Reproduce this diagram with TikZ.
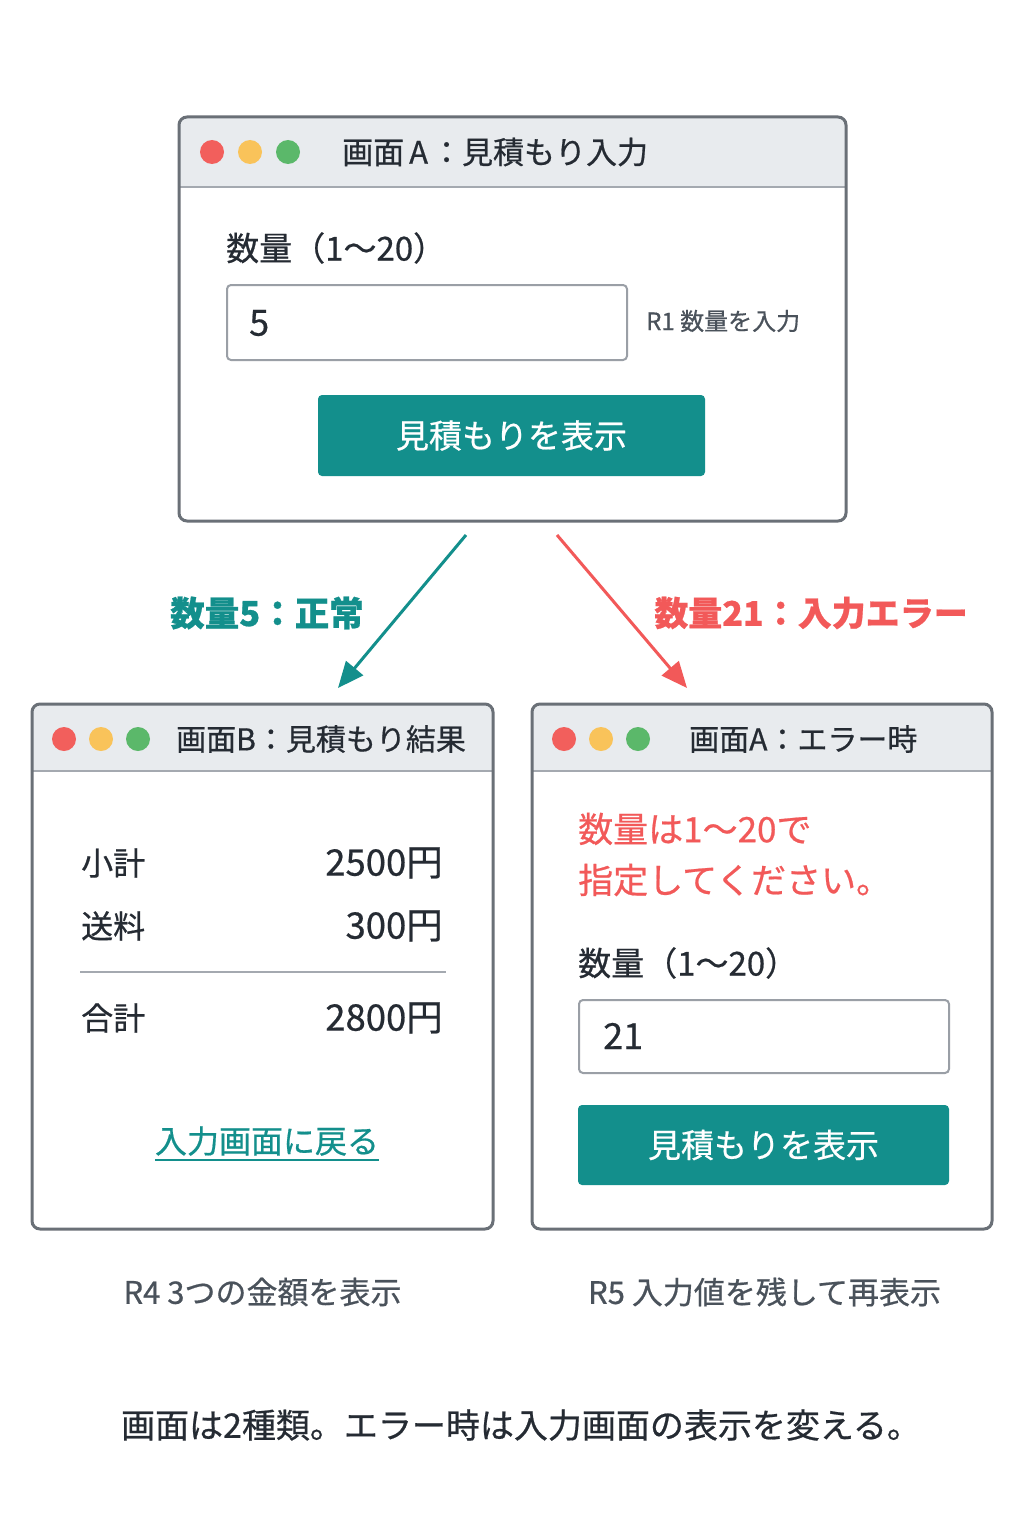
\documentclass[tikz,border=0pt]{standalone}
\usepackage{fontspec}
\setmainfont{Noto Sans CJK JP}[RawFeature={embolden=0.6}]
\usetikzlibrary{arrows.meta}

\definecolor{ink}{HTML}{252B33}
\definecolor{winedge}{HTML}{6A7077}
\definecolor{barfill}{HTML}{E8EBEE}
\definecolor{sepgray}{HTML}{A4A9B0}
\definecolor{fieldgray}{HTML}{9A9FA6}
\definecolor{tealbtn}{HTML}{138F8C}
\definecolor{errred}{HTML}{F25959}
\definecolor{capgray}{HTML}{4A525B}
\definecolor{dotred}{HTML}{F25F5C}
\definecolor{dotyel}{HTML}{F9C35A}
\definecolor{dotgrn}{HTML}{5BB86A}

\tikzset{
  win/.style={fill=white, inner sep=0pt, outer sep=0pt, rounded corners=8pt},
  winedge/.style={draw=winedge, line width=3pt, rounded corners=8pt},
  dot/.style={circle, inner sep=0pt, minimum size=24pt},
  wintitle/.style={anchor=west, inner sep=0pt, text=ink, font=\fontsize{30}{36}\selectfont},
  body/.style={inner sep=0pt, text=ink, font=\fontsize{32}{38}\selectfont},
  money/.style={body, anchor=east, font=\fontsize{36.5}{42}\selectfont},
  field/.style={draw=fieldgray, line width=2pt, rounded corners=4pt, fill=white, inner sep=0pt},
  btn/.style={fill=tealbtn, rounded corners=4pt, text=white, inner sep=0pt,
    font=\fontsize{33}{38}\selectfont},
  caption/.style={inner sep=0pt, text=capgray, font=\fontsize{31}{36}\selectfont},
  flow/.style={line width=3pt, -{Triangle[length=26pt,width=22pt]}}
}

\begin{document}
\begin{tikzpicture}[x=1pt, y=-1pt]

    % Page
    \useasboundingbox[fill=white] (0,0) rectangle (1024,1536);

    % Define the three windows
    \node[win, minimum width=667pt, minimum height=404pt] (winA) at (512.5,319) {};
    \node[win, minimum width=461pt, minimum height=525pt] (winB) at (262.5,966.5) {};
    \node[win, minimum width=460pt, minimum height=525pt] (winC) at (762,966.5) {};

    % Title bars, clipped to the window outline
    \begin{scope}
      \clip[rounded corners=8pt] (winA.north west) rectangle (winA.south east);
      \fill[barfill] (winA.north west) rectangle ([yshift=-70pt]winA.north east);
    \end{scope}
    \begin{scope}
      \clip[rounded corners=8pt] (winB.north west) rectangle (winB.south east);
      \fill[barfill] (winB.north west) rectangle ([yshift=-67pt]winB.north east);
    \end{scope}
    \begin{scope}
      \clip[rounded corners=8pt] (winC.north west) rectangle (winC.south east);
      \fill[barfill] (winC.north west) rectangle ([yshift=-67pt]winC.north east);
    \end{scope}
    \draw[sepgray, line width=2pt] ([yshift=-70pt]winA.north west) -- ([yshift=-70pt]winA.north east);
    \draw[sepgray, line width=2pt] ([yshift=-67pt]winB.north west) -- ([yshift=-67pt]winB.north east);
    \draw[sepgray, line width=2pt] ([yshift=-67pt]winC.north west) -- ([yshift=-67pt]winC.north east);

    % Window borders
    \draw[winedge] (winA.north west) rectangle (winA.south east);
    \draw[winedge] (winB.north west) rectangle (winB.south east);
    \draw[winedge] (winC.north west) rectangle (winC.south east);

    % Traffic-light dots
    \foreach \c/\dx in {dotred/33, dotyel/71, dotgrn/109} {
      \node[dot, fill=\c] (dA\c) at ([xshift=\dx pt, yshift=-35pt]winA.north west) {};
    }
    \foreach \c/\dx in {dotred/32, dotyel/69, dotgrn/106} {
      \node[dot, fill=\c] (dB\c) at ([xshift=\dx pt, yshift=-35pt]winB.north west) {};
      \node[dot, fill=\c] (dC\c) at ([xshift=\dx pt, yshift=-35pt]winC.north west) {};
    }

    % Window titles
    \node[wintitle, font=\fontsize{31}{36}\selectfont] (titleA) at (342,152) {画面\hspace{5pt}A\hspace{3pt}：見積もり入力};
    \node[wintitle] (titleB) at (176,739) {画面B：見積もり結果};
    \node[wintitle] (titleC) at (689,739) {画面A：エラー時};

    % Screen A: input form
    \node[body, anchor=west, font=\fontsize{33}{38}\selectfont] (qtyA) at (226,248) {数量（1〜20）};
    \node[field, minimum width=400pt, minimum height=75pt] (fieldA) at (427,322.5) {};
    \node[body, anchor=west, font=\fontsize{36}{42}\selectfont] (valA) at (249,323) {5};
    \node[inner sep=0pt, anchor=west, text=capgray, font=\fontsize{24}{28}\selectfont] (noteR1) at (646,321) {R1 数量を入力};
    \node[btn, minimum width=387pt, minimum height=81pt] (btnA) at (511.5,435.5) {見積もりを表示};

    % Screen B: result
    \node[body, anchor=west] (subL) at (81,863) {小計};
    \node[money] (subV) at (443,863) {2500円};
    \node[body, anchor=west] (shipL) at (81,926) {送料};
    \node[money] (shipV) at (443,926) {300円};
    \draw[sepgray, line width=2pt] (80,972) -- (446,972);
    \node[body, anchor=west] (totL) at (81,1018) {合計};
    \node[money] (totV) at (443,1018) {2800円};
    \node[body, text=tealbtn] (backLink) at (267,1141) {入力画面に戻る};
    \draw[tealbtn, line width=2pt] ([yshift=-4pt]backLink.south west) -- ([yshift=-4pt]backLink.south east);

    % Screen A after an error
    \node[body, anchor=west, align=left, text=errred, font=\fontsize{35}{51}\selectfont] (errMsg) at (578,854.5) {数量は1〜20で\\指定してください。};
    \node[body, anchor=west, font=\fontsize{33}{38}\selectfont] (qtyC) at (578,963) {数量（1〜20）};
    \node[field, minimum width=370pt, minimum height=73pt] (fieldC) at (764,1036.5) {};
    \node[body, anchor=west, font=\fontsize{36}{42}\selectfont] (valC) at (603,1036) {21};
    \node[btn, minimum width=371pt, minimum height=80pt] (btnC) at (763.5,1145) {見積もりを表示};

    % Arrow end points
    \coordinate (okS) at ([xshift=-46.5pt, yshift=-14pt]winA.south);
    \coordinate (okE) at ([xshift=75.5pt, yshift=16pt]winB.north);
    \coordinate (errS) at ([xshift=44.5pt, yshift=-14pt]winA.south);
    \coordinate (errE) at ([xshift=-75pt, yshift=16pt]winC.north);

    % Draw the two transitions
    \draw[flow, tealbtn] (okS) -- (okE);
    \draw[flow, errred] (errS) -- (errE);
    \node[inner sep=0pt, text=tealbtn, font=\fontsize{34.5}{40}\selectfont\bfseries] (okLbl) at (267,613) {数量5：正常};
    \node[inner sep=0pt, text=errred, font=\fontsize{34}{40}\selectfont\bfseries] (errLbl) at (811,613) {数量21：入力エラー};

    % Captions
    \node[caption] (capR4) at (262.5,1292) {R4 3つの金額を表示};
    \node[caption] (capR5) at (764.5,1292) {R5 入力値を残して再表示};
    \node[caption, text=ink, font=\fontsize{34}{40}\selectfont] (summary) at (521,1425) {画面は2種類。エラー時は入力画面の表示を変える。};

\end{tikzpicture}
\end{document}
